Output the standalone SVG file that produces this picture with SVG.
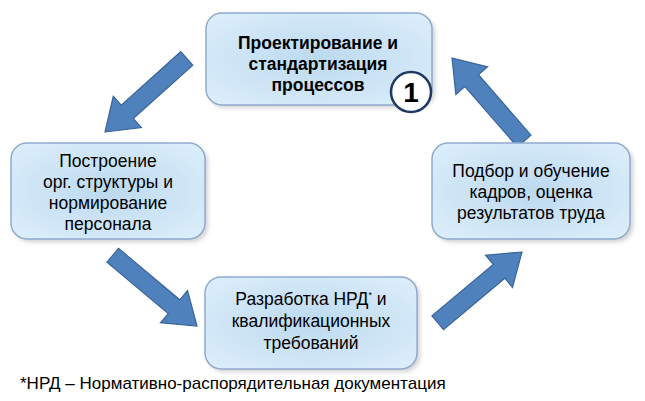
<svg xmlns="http://www.w3.org/2000/svg" width="645" height="401" viewBox="0 0 645 401">
<style>
.box{fill:url(#g);stroke:#8eaad0;stroke-width:1.5}
.sh{fill:#9a9a9a;opacity:.45}
.t{font-family:"Liberation Sans",Arial,sans-serif;font-size:17.5px;fill:#000;text-anchor:middle}
.arr{fill:#4f81bd;stroke:#3a659a;stroke-width:1.2}
</style>
<defs>
<radialGradient id="g" cx="50%" cy="50%" r="70%">
<stop offset="0" stop-color="#bcd9ef"/><stop offset="1" stop-color="#deeffb"/>
</radialGradient>
<filter id="b"><feGaussianBlur stdDeviation="2"/></filter>
<polygon id="a" points="0,0 -30,-21 -30,-9 -110,-9 -110,9 -30,9 -30,21"/>
</defs>
<g id="connectors">
<use href="#a" class="arr" transform="translate(105,132) rotate(138)"/>
<use href="#a" class="arr" transform="translate(197,326) rotate(40)"/>
<use href="#a" class="arr" transform="translate(522,252) rotate(-40)"/>
<use href="#a" class="arr" transform="translate(452,58) rotate(229)"/>
</g>
<g id="n1">
<rect x="209" y="16" width="226" height="92" rx="16" class="sh" filter="url(#b)"/>
<rect x="206" y="13" width="226" height="92" rx="16" class="box"/>
<text class="t" font-weight="bold" x="318" y="49">Проектирование и</text>
<text class="t" font-weight="bold" x="318" y="70">стандартизация</text>
<text class="t" font-weight="bold" x="318" y="91">процессов</text>
<circle cx="411" cy="92" r="20" fill="#fff" stroke="#1f3864" stroke-width="2.5"/>
<text x="411" y="102" font-family="Liberation Sans,Arial,sans-serif" font-weight="bold" font-size="28" text-anchor="middle">1</text>
</g>
<g id="n2">
<rect x="14" y="146" width="194" height="96" rx="16" class="sh" filter="url(#b)"/>
<rect x="11" y="143" width="194" height="96" rx="16" class="box"/>
<text class="t" x="108" y="167">Построение</text>
<text class="t" x="108" y="188">орг. структуры и</text>
<text class="t" x="108" y="209">нормирование</text>
<text class="t" x="108" y="230">персонала</text>
</g>
<g id="n3">
<rect x="208" y="280" width="212" height="92" rx="16" class="sh" filter="url(#b)"/>
<rect x="205" y="277" width="212" height="92" rx="16" class="box"/>
<text class="t" x="311" y="305">Разработка НРД<tspan font-size="9" dy="-7">*</tspan><tspan dy="7"> и</tspan></text>
<text class="t" x="311" y="327">квалификационных</text>
<text class="t" x="311" y="349">требований</text>
</g>
<g id="n4">
<rect x="435" y="146" width="198" height="96" rx="16" class="sh" filter="url(#b)"/>
<rect x="432" y="143" width="198" height="96" rx="16" class="box"/>
<text class="t" x="531" y="177">Подбор и обучение</text>
<text class="t" x="531" y="198">кадров, оценка</text>
<text class="t" x="531" y="219">результатов труда</text>
</g>
<text x="20" y="389" font-family="Liberation Sans,Arial,sans-serif" font-size="17">*НРД – Нормативно-распорядительная  документация</text>
</svg>
